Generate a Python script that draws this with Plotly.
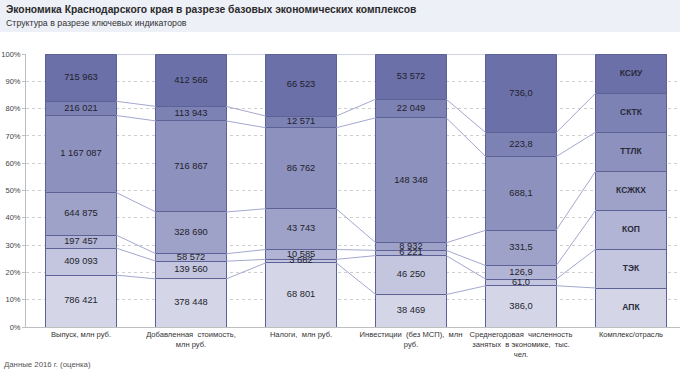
import plotly.graph_objects as go

categories = [
    "Выпуск, млн руб.",
    "Добавленная  стоимость,<br>млн руб.",
    "Налоги,  млн руб.",
    "Инвестиции  (без МСП),  млн<br>руб.",
    "Среднегодовая  численность<br>занятых  в экономике,  тыс.<br>чел.",
    "Комплекс/отрасль",
]
complexes = ["АПК", "ТЭК", "КОП", "КСЖКХ", "ТТЛК", "СКТК", "КСИУ"]

output_vals = [786421, 409093, 197457, 644875, 1167087, 216021, 715963]
value_added = [378448, 139560, 58572, 328690, 716867, 113943, 412566]
taxes = [68801, 3682, 10585, 43743, 86762, 12571, 66523]
investments = [38469, 46250, 6221, 8932, 148348, 22049, 53572]
employment = [386.0, 61.0, 126.9, 331.5, 688.1, 223.8, 736.0]
complex_column = [1, 1, 1, 1, 1, 1, 1]

colors = ["#d4d6e8", "#c4c6df", "#b1b4d4", "#9ea2c9", "#8d91be", "#7d82b5", "#6b70a9"]

columns = [output_vals, value_added, taxes, investments, employment, complex_column]

FONT = "Liberation Sans, Arial, sans-serif"

def fmt_int(v):
    return f"{int(v):,}".replace(",", " ")

def fmt_dec(v):
    return f"{v:.1f}".replace(".", ",")

labels_cols = [
    [fmt_int(v) for v in output_vals],
    [fmt_int(v) for v in value_added],
    [fmt_int(v) for v in taxes],
    [fmt_int(v) for v in investments],
    [fmt_dec(v) for v in employment],
    complexes,
]

xs = list(range(len(categories)))
BW = 0.64

pcts = []
for col in columns:
    s = sum(col)
    pcts.append([v / s * 100 for v in col])
cums = []
for p in pcts:
    c = [0.0]
    for v in p:
        c.append(c[-1] + v)
    cums.append(c)

fig = go.Figure()

for k, name in enumerate(complexes):
    fig.add_trace(go.Bar(
        x=xs,
        y=[pcts[i][k] for i in xs],
        name=name,
        width=BW,
        marker=dict(color=colors[k], line=dict(color="#5d6296", width=1)),
        hoverinfo="skip",
    ))

# series lines
lx, ly = [], []
for k in range(1, len(complexes) + 1):
    for i in range(len(xs) - 1):
        lx += [xs[i] + BW / 2, xs[i + 1] - BW / 2, None]
        ly += [cums[i][k], cums[i + 1][k], None]
fig.add_trace(go.Scatter(x=lx, y=ly, mode="lines",
                         line=dict(color="#a4a8d0", width=1),
                         hoverinfo="skip", showlegend=False))

# data labels
tx, ty, tt = [], [], []
for i in xs[:-1]:
    for k in range(len(complexes)):
        tx.append(xs[i])
        ty.append((cums[i][k] + cums[i][k + 1]) / 2)
        tt.append(labels_cols[i][k])
fig.add_trace(go.Scatter(x=tx, y=ty, text=tt, mode="text",
                         textfont=dict(family=FONT, size=9.3, color="#1e1e2a"),
                         hoverinfo="skip", showlegend=False))
i = xs[-1]
fig.add_trace(go.Scatter(
    x=[i] * len(complexes),
    y=[(cums[i][k] + cums[i][k + 1]) / 2 for k in range(len(complexes))],
    text=labels_cols[i], mode="text",
    textfont=dict(family=FONT, size=8.5, color="#2a2a3a", weight="bold"),
    hoverinfo="skip", showlegend=False))

W, H = 680, 388
ML, MR, MT, MB = 26, 0, 54, 61
pw, ph = W - ML - MR, H - MT - MB

def px_x(p):
    return (p - ML) / pw

def px_y(p):
    return (H - MB - p) / ph

fig.update_layout(
    width=W, height=H,
    margin=dict(l=ML, r=MR, t=MT, b=MB, pad=0),
    barmode="stack",
    showlegend=False,
    hovermode=False,
    paper_bgcolor="white",
    plot_bgcolor="white",
    font=dict(family=FONT, color="#333333"),
    xaxis=dict(
        range=[-0.5, -0.5 + pw / 110],
        tickvals=xs, ticktext=categories,
        tickangle=0, automargin=False,
        tickfont=dict(size=7.6, color="#333333"),
        showline=True, linecolor="#bfbfbf", linewidth=1,
        ticks="", showgrid=False, zeroline=False, fixedrange=True,
    ),
    yaxis=dict(
        range=[0, 100], automargin=False,
        tickvals=list(range(0, 101, 10)),
        ticktext=[f"{v}%" for v in range(0, 101, 10)],
        tickfont=dict(size=7.5, color="#444444"),
        showline=True, linecolor="#bfbfbf", linewidth=1,
        ticks="outside", ticklen=3, tickcolor="#bfbfbf",
        showgrid=True, gridcolor="#cfcfcf", griddash="dot", gridwidth=1,
        zeroline=False, fixedrange=True,
    ),
    shapes=[dict(
        type="rect", xref="paper", yref="paper",
        x0=px_x(0), x1=px_x(W), y0=px_y(32), y1=px_y(0),
        fillcolor="#eef0f8", line=dict(width=0), layer="below",
    )],
    annotations=[
        dict(text="Экономика Краснодарского края в разрезе базовых экономических комплексов",
             xref="paper", yref="paper", x=px_x(4), y=px_y(10),
             xanchor="left", yanchor="middle", showarrow=False,
             font=dict(family=FONT, size=10.3, color="#2a2a2a", weight="bold")),
        dict(text="Структура в разрезе ключевых индикаторов",
             xref="paper", yref="paper", x=px_x(4), y=px_y(23),
             xanchor="left", yanchor="middle", showarrow=False,
             font=dict(family=FONT, size=8.8, color="#333333")),
        dict(text="Данные 2016 г. (оценка)",
             xref="paper", yref="paper", x=px_x(2), y=px_y(364),
             xanchor="left", yanchor="middle", showarrow=False,
             font=dict(family=FONT, size=7.8, color="#555555")),
    ],
)

fig.write_html("out.html", config={"displayModeBar": False, "staticPlot": True},
               post_script="document.body.style.margin='0';document.body.style.overflow='hidden';")
